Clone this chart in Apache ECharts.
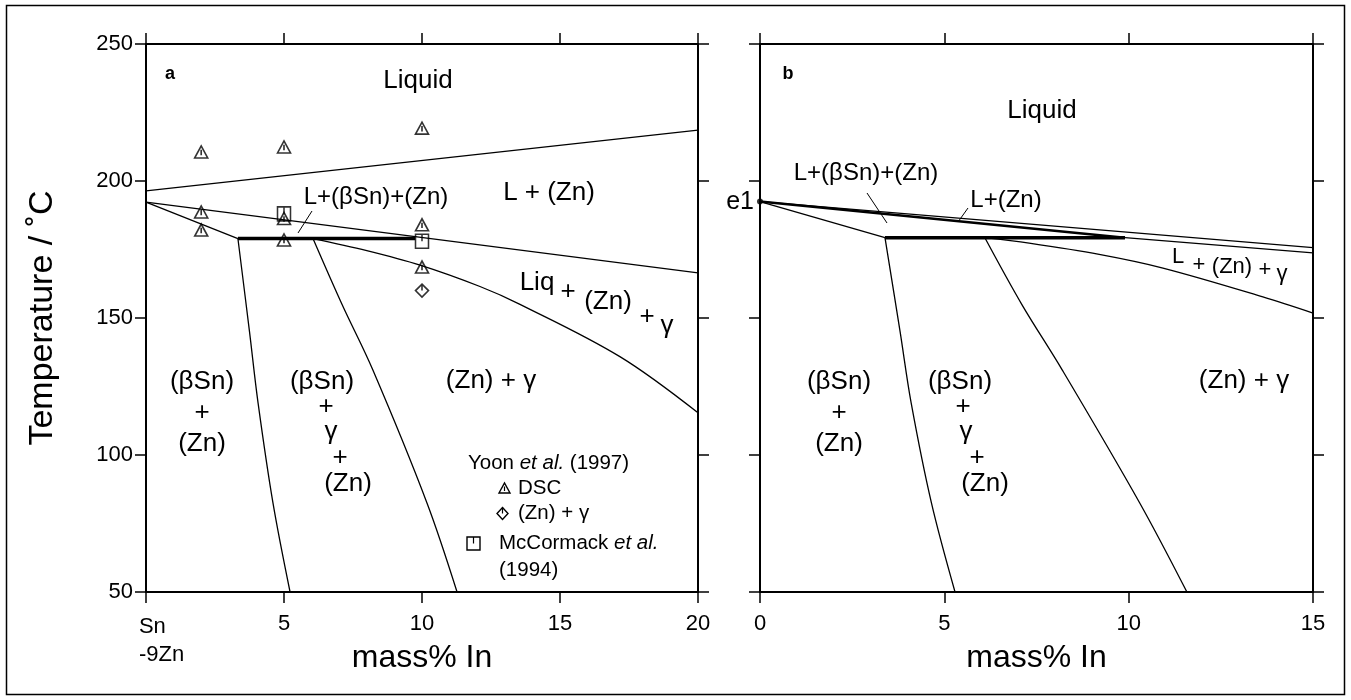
<!DOCTYPE html>
<html>
<head>
<meta charset="utf-8">
<script src="https://cdn.jsdelivr.net/npm/echarts@6/dist/echarts.min.js"></script>
<style>
  html, body { margin: 0; padding: 0; background: #fff; }
  #chart { width: 1351px; height: 700px; }
</style>
</head>
<body>
<div id="chart"></div>
<script>
// ---- Panel a: Sn-9Zn / In section, 0–20 mass% In ----
const ticksA = [0, 5, 10, 15, 20];
const tickLabelsA = ['Sn\n-9Zn', '5', '10', '15', '20'];
const tempTicks = [50, 100, 150, 200, 250];

const liquidusA   = [[0, 196.4], [20, 218.6]];
const lznLowerA   = [[0, 192.3], [20, 166.5]];
const e1ToEutA    = [[0, 192.3], [3.33, 179]];
const eutecticA   = [[3.33, 179], [9.75, 179]];
const solvusSnA   = [[3.33, 179], [3.75, 145], [4.06, 119], [4.6, 82.5], [5.22, 50]];
const solvusGamA  = [[6.05, 179], [7.1, 155], [8.22, 131], [10.18, 82.5], [11.27, 50]];
const liqGamA     = [[6.05, 179], [8.0, 174.6], [9.93, 169.3], [12.1, 161.5], [13.55, 155], [17.17, 135.9], [20, 115.4]];

// experimental points (Yoon et al. 1997; McCormack et al. 1994)
const dscPoints     = [[2, 210.6], [5, 212.4], [10, 219.3], [2, 188.7], [2, 182.1], [5, 186.3], [5, 178.5], [10, 184], [10, 168.6]];
const znGammaPoints = [[10, 160]];
const mcCormackPts  = [[5, 188], [10, 178]];

// ---- Panel b: calculated section, 0–15 mass% In ----
const ticksB = [0, 5, 10, 15];
const e1Point     = [[0, 192.5]];
const liquidusB   = [[0, 192.5], [15, 175.7]];
const lznLowerB   = [[0, 192.5], [9.9, 179.3]];
const lznLowerB2  = [[9.9, 179.3], [15, 173.8]];
const e1ToEutB    = [[0, 192.5], [3.39, 179.3]];
const eutecticB   = [[3.39, 179.3], [9.9, 179.3]];
const solvusSnB   = [[3.39, 179.3], [3.8, 145], [4.1, 119], [4.65, 82.5], [5.29, 50]];
const solvusGamB  = [[6.1, 179.3], [7.1, 155], [8.2, 131], [10.3, 82.5], [11.58, 50]];
const liqGamB     = [[6.1, 179.3], [7.3, 177.3], [9.2, 173.2], [10.93, 168.2], [13.64, 157.7], [15, 151.8]];

const FONT = '"Liberation Sans", Arial, Helvetica, sans-serif';
const BLACK = '#000';

const TRI = 'path://M0,11 L6,0 L12,11 Z M6,3.5 L6,8.5';
const SQR = 'path://M0,0 L12,0 L12,12 L0,12 Z M6,0 L6,6';
const DIA = 'path://M6,0 L12,6 L6,12 L0,6 Z M6,0 L6,6';

const chart = echarts.init(document.getElementById('chart'), null, { renderer: 'canvas' });

const frame = { show: true, onZero: false, lineStyle: { color: BLACK, width: 2 } };
const tick = { show: true, inside: false, length: 11, lineStyle: { color: BLACK, width: 1.5 } };

function xAx(grid, max, pos, withLabels, labelFor) {
  return {
    gridIndex: grid, type: 'value', min: 0, max: max, interval: 5, position: pos,
    axisLine: frame, axisTick: tick, splitLine: { show: false },
    axisLabel: withLabels ? {
      show: true, margin: 21, color: BLACK, fontFamily: FONT, fontSize: 22,
      formatter: labelFor,
      rich: { s: { fontFamily: FONT, fontSize: 22, color: BLACK, align: 'left', padding: [0, 0, 0, 31], lineHeight: 28 } }
    } : { show: false },
    name: withLabels ? 'mass% In' : '', nameLocation: 'middle', nameGap: 50, nameMoveOverlap: false,
    nameTextStyle: { fontFamily: FONT, fontSize: 32, color: BLACK }
  };
}
function yAx(grid, pos, withLabels, title) {
  return {
    gridIndex: grid, type: 'value', min: 50, max: 250, interval: 50, position: pos,
    axisLine: frame, axisTick: tick, splitLine: { show: false },
    axisLabel: withLabels ? { show: true, margin: 13, color: BLACK, fontFamily: FONT, fontSize: 22 } : { show: false },
    name: title || '', nameLocation: 'middle', nameGap: 86, nameRotate: 90, nameMoveOverlap: false,
    nameTextStyle: { fontFamily: FONT, fontSize: 34, color: BLACK }
  };
}

function line(data, xi, yi, width, smooth) {
  return {
    type: 'line', xAxisIndex: xi, yAxisIndex: yi, data: data,
    symbol: 'none', smooth: smooth ? 0.35 : false, silent: true,
    lineStyle: { color: BLACK, width: width }, z: 3
  };
}
function pts(data, symbol, size, xi, yi) {
  return {
    type: 'scatter', xAxisIndex: xi, yAxisIndex: yi, data: data,
    symbol: symbol, symbolSize: size, silent: true,
    itemStyle: { color: 'rgba(0,0,0,0)', borderColor: BLACK, borderWidth: 1.6 }, z: 4
  };
}

function labelA(v) {
  const i = ticksA.indexOf(v);
  const t = i >= 0 ? tickLabelsA[i] : '';
  if (t.indexOf('\n') >= 0) return t.split('\n').map(s => '{s|' + s + '}').join('\n');
  return t;
}

function txt(x, y, s, size, weight) {
  return {
    type: 'text', x: x, y: y, silent: true,
    style: { text: s, font: (weight ? weight + ' ' : '') + (size || 26) + 'px ' + FONT, fill: BLACK,
             align: 'center', verticalAlign: 'middle', textAlign: 'center', textVerticalAlign: 'middle' }
  };
}
function ltxt(x, y, s, size) {
  const sz = size || 20.5;
  return {
    type: 'text', x: x, y: y, silent: true,
    style: { text: s, font: sz + 'px ' + FONT, fill: BLACK,
             align: 'left', verticalAlign: 'middle', textAlign: 'left', textVerticalAlign: 'middle',
             rich: { n: { font: sz + 'px ' + FONT, fill: BLACK },
                     i: { font: 'italic ' + sz + 'px ' + FONT, fill: BLACK } } }
  };
}
function seg(x1, y1, x2, y2, w) {
  return { type: 'line', silent: true, shape: { x1, y1, x2, y2 }, style: { stroke: BLACK, lineWidth: w || 1 } };
}
function poly(points) {
  return { type: 'polygon', silent: true, shape: { points: points }, style: { fill: 'none', stroke: BLACK, lineWidth: 1.4 } };
}

const graphics = [
  // outer figure border
  { type: 'rect', silent: true, shape: { x: 6.5, y: 5.5, width: 1338, height: 689 }, style: { fill: 'none', stroke: BLACK, lineWidth: 1.5 } },
  // panel a
  txt(170, 74, 'a', 18, 'bold'),
  txt(418, 81, 'Liquid'),
  txt(376, 197, 'L+(βSn)+(Zn)', 24),
  seg(312, 211, 298, 233),
  txt(549, 193, 'L + (Zn)'),
  txt(537, 283, 'Liq'), txt(568, 292, '+'), txt(608, 302, '(Zn)'), txt(647, 317, '+'), txt(667, 326, 'γ'),
  txt(491, 381, '(Zn) + γ'),
  txt(202, 382, '(βSn)'), txt(202, 413, '+'), txt(202, 444, '(Zn)'),
  txt(322, 382, '(βSn)'), txt(326, 407, '+'), txt(331, 432, 'γ'), txt(340, 458, '+'), txt(348, 484, '(Zn)'),
  // legend of experimental data
  ltxt(468, 463, '{n|Yoon }{i|et al.}{n| (1997)}'),
  poly([[499, 493], [504.5, 483], [510, 493]]), seg(504.5, 486.5, 504.5, 491, 1.2),
  ltxt(518, 488, 'DSC'),
  poly([[502.5, 507.5], [508, 513.5], [502.5, 519.5], [497, 513.5]]), seg(502.5, 507.5, 502.5, 513.5, 1.2),
  ltxt(518, 513, '(Zn) + γ'),
  poly([[467, 537], [480, 537], [480, 550], [467, 550]]), seg(473.5, 537, 473.5, 543.5, 1.2),
  ltxt(499, 543, '{n|McCormack }{i|et al.}'),
  ltxt(499, 570, '(1994)'),
  // panel b
  txt(788, 74, 'b', 18, 'bold'),
  txt(1042, 111, 'Liquid'),
  txt(866, 173, 'L+(βSn)+(Zn)', 24),
  seg(867, 193, 887, 223),
  txt(1006, 200, 'L+(Zn)', 24),
  seg(968, 208, 958, 222),
  txt(1178, 257, 'L', 22), txt(1199, 265, '+', 22), txt(1232, 267, '(Zn)', 22), txt(1265, 270, '+', 22), txt(1282, 274, 'γ', 22),
  txt(1244, 381, '(Zn) + γ'),
  txt(839, 382, '(βSn)'), txt(839, 413, '+'), txt(839, 444, '(Zn)'),
  txt(960, 382, '(βSn)'), txt(963, 407, '+'), txt(966, 432, 'γ'), txt(977, 458, '+'), txt(985, 484, '(Zn)'),
  { type: 'text', x: 754, y: 202, silent: true, style: { text: 'e1', font: '25px ' + FONT, fill: BLACK, align: 'right', textAlign: 'right', verticalAlign: 'middle', textVerticalAlign: 'middle' } }
];

const option = {
  animation: false,
  backgroundColor: '#fff',
  grid: [
    { left: 146, top: 44, width: 552, height: 548, containLabel: false, outerBoundsMode: 'none' },
    { left: 760, top: 44, width: 553, height: 548, containLabel: false, outerBoundsMode: 'none' }
  ],
  xAxis: [
    xAx(0, 20, 'bottom', true, labelA),
    xAx(0, 20, 'top', false),
    xAx(1, 15, 'bottom', true, v => String(v)),
    xAx(1, 15, 'top', false)
  ],
  yAxis: [
    yAx(0, 'left', true, 'Temperature / ˚C'),
    yAx(0, 'right', false),
    yAx(1, 'left', false),
    yAx(1, 'right', false)
  ],
  series: [
    line(liquidusA, 0, 0, 1.3),
    line(lznLowerA, 0, 0, 1.3),
    line(e1ToEutA, 0, 0, 1.3),
    line(eutecticA, 0, 0, 3.5),
    line(solvusSnA, 0, 0, 1.3, true),
    line(solvusGamA, 0, 0, 1.3, true),
    line(liqGamA, 0, 0, 1.3, true),
    pts(dscPoints, TRI, [13, 12], 0, 0),
    pts(znGammaPoints, DIA, [13, 13], 0, 0),
    pts(mcCormackPts, SQR, [13, 14], 0, 0),

    line(liquidusB, 2, 2, 1.3),
    line(lznLowerB, 2, 2, 2.4),
    line(lznLowerB2, 2, 2, 1.3),
    line(e1ToEutB, 2, 2, 1.3),
    line(eutecticB, 2, 2, 3.5),
    line(solvusSnB, 2, 2, 1.3, true),
    line(solvusGamB, 2, 2, 1.3, true),
    line(liqGamB, 2, 2, 1.3, true),
    {
      type: 'scatter', xAxisIndex: 2, yAxisIndex: 2, data: e1Point, symbol: 'circle', symbolSize: 6,
      itemStyle: { color: BLACK }, silent: true, z: 5
    }
  ],
  graphic: graphics
};

chart.setOption(option);
</script>
</body>
</html>
